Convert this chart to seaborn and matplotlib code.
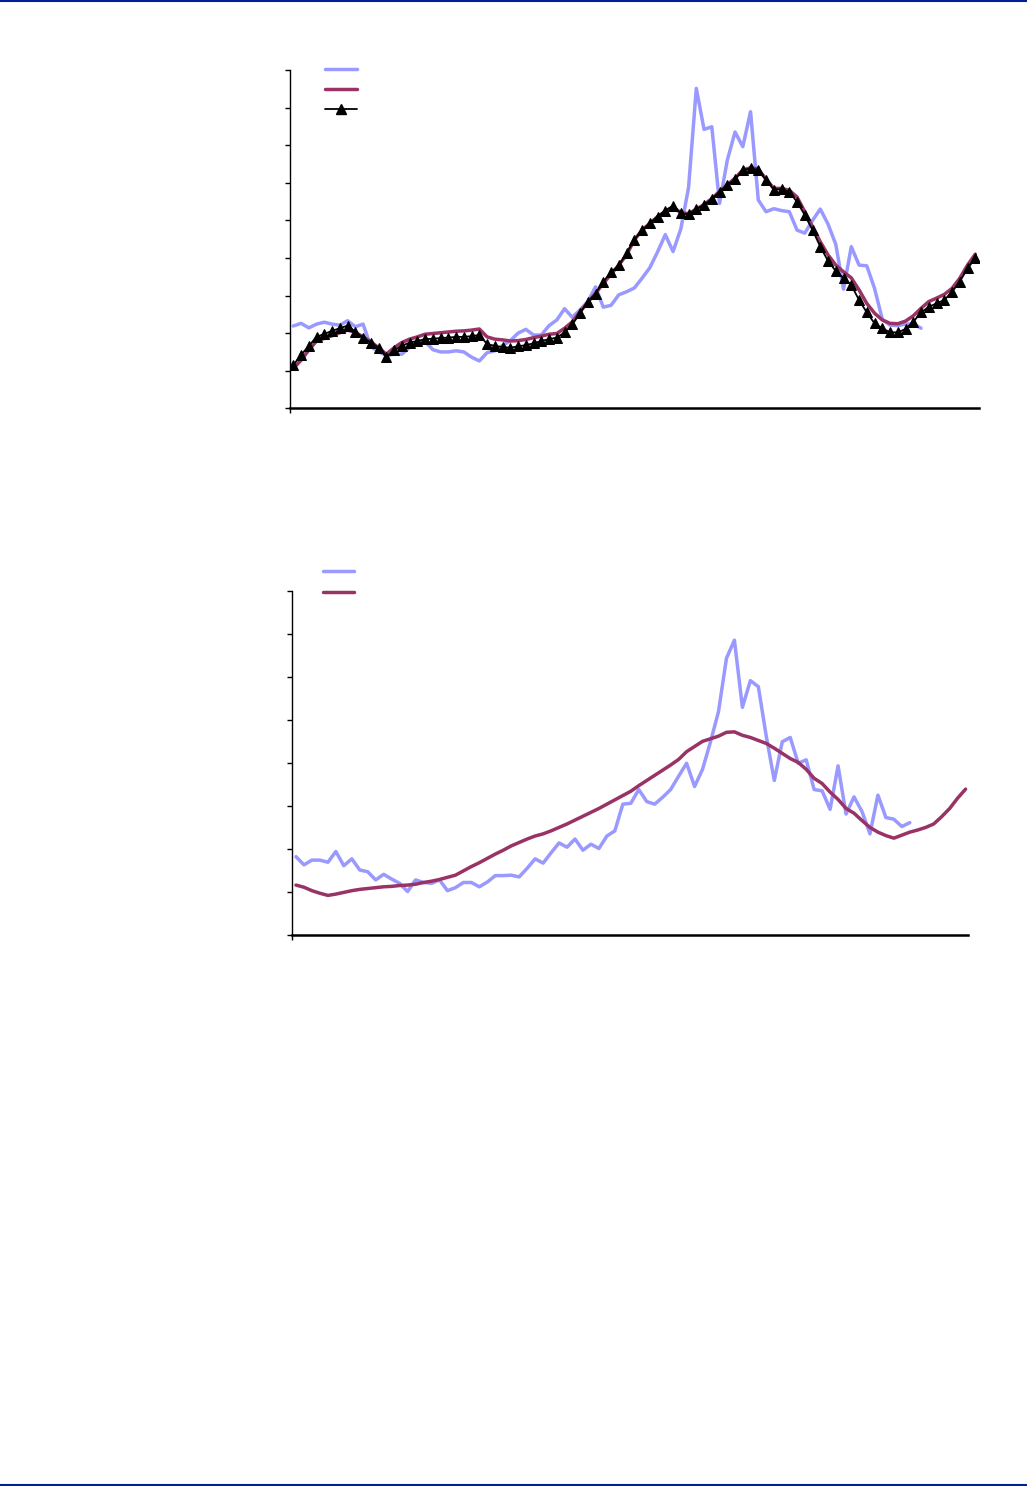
import numpy as np
import pandas as pd
import matplotlib
matplotlib.use("Agg")
import matplotlib.pyplot as plt
import seaborn as sns
from matplotlib.lines import Line2D

# ---------------- data (axis units = tick steps) -------------
top_triangle = [1.15, 1.42, 1.66, 1.90, 1.98, 2.06, 2.13, 2.20, 2.04, 1.88,
                1.75, 1.61, 1.36, 1.54, 1.66, 1.75, 1.79, 1.84, 1.85, 1.87,
                1.88, 1.90, 1.90, 1.92, 1.95, 1.71, 1.66, 1.63, 1.61, 1.65,
                1.68, 1.73, 1.79, 1.84, 1.88, 2.02, 2.23, 2.53, 2.84, 3.05,
                3.37, 3.62, 3.80, 4.13, 4.48, 4.74, 4.92, 5.10, 5.26, 5.39,
                5.19, 5.16, 5.30, 5.41, 5.57, 5.76, 5.94, 6.10, 6.34, 6.38,
                6.34, 6.07, 5.82, 5.83, 5.76, 5.49, 5.14, 4.74, 4.30, 3.92,
                3.65, 3.46, 3.28, 2.88, 2.55, 2.26, 2.13, 2.02, 2.02, 2.11,
                2.30, 2.55, 2.70, 2.79, 2.88, 3.10, 3.37, 3.72, 3.99]

top_red = [1.06, 1.28, 1.55, 1.79, 1.86, 1.93, 2.01, 2.08, 2.02, 1.90,
           1.77, 1.61, 1.44, 1.61, 1.75, 1.84, 1.90, 1.97, 1.99, 2.01,
           2.03, 2.05, 2.06, 2.08, 2.11, 1.90, 1.84, 1.82, 1.79, 1.80,
           1.83, 1.88, 1.92, 1.97, 1.99, 2.13, 2.30, 2.57, 2.82, 3.06,
           3.32, 3.57, 3.81, 4.08, 4.48, 4.74, 4.92, 5.10, 5.24, 5.36,
           5.20, 5.18, 5.30, 5.42, 5.58, 5.77, 5.95, 6.12, 6.34, 6.40,
           6.36, 6.10, 5.85, 5.85, 5.80, 5.62, 5.23, 4.83, 4.43, 4.08,
           3.81, 3.63, 3.47, 3.15, 2.79, 2.53, 2.35, 2.26, 2.25, 2.32,
           2.46, 2.66, 2.84, 2.93, 3.03, 3.19, 3.46, 3.81, 4.10]

top_blue = [2.19, 2.26, 2.14, 2.24, 2.29, 2.24, 2.21, 2.33, 2.17, 2.24,
            1.64, 1.51, 1.40, 1.44, 1.44, 1.62, 1.77, 1.78, 1.56, 1.50,
            1.50, 1.53, 1.50, 1.36, 1.26, 1.48, 1.53, 1.67, 1.80, 2.00,
            2.10, 1.95, 1.95, 2.20, 2.35, 2.65, 2.42, 2.62, 2.84, 3.23,
            2.69, 2.74, 3.02, 3.10, 3.20, 3.46, 3.74, 4.16, 4.62, 4.17,
            4.77, 5.87, 8.51, 7.42, 7.49, 5.45, 6.60, 7.35, 6.96, 7.89,
            5.54, 5.23, 5.31, 5.26, 5.23, 4.74, 4.66, 5.00, 5.30, 4.90,
            4.36, 3.17, 4.30, 3.81, 3.79, 3.19, 2.37, 2.21, 2.20, 2.24,
            2.25, 2.13]

bottom_blue = [1.82, 1.63, 1.74, 1.74, 1.69, 1.94, 1.61, 1.77, 1.51, 1.47,
               1.28, 1.41, 1.30, 1.20, 1.01, 1.28, 1.22, 1.20, 1.28, 1.03,
               1.10, 1.22, 1.22, 1.12, 1.23, 1.38, 1.38, 1.39, 1.35, 1.55,
               1.77, 1.67, 1.91, 2.14, 2.04, 2.23, 1.97, 2.11, 2.01, 2.30,
               2.42, 3.04, 3.06, 3.38, 3.10, 3.04, 3.20, 3.38, 3.69, 3.99,
               3.45, 3.85, 4.49, 5.19, 6.43, 6.85, 5.29, 5.91, 5.77, 4.61,
               3.59, 4.49, 4.59, 3.99, 4.07, 3.38, 3.35, 2.92, 3.93, 2.81,
               3.21, 2.87, 2.35, 3.25, 2.73, 2.69, 2.52, 2.61]

bottom_red = [1.16, 1.11, 1.03, 0.97, 0.92, 0.95, 0.99, 1.03, 1.06, 1.08,
              1.10, 1.12, 1.13, 1.15, 1.16, 1.18, 1.22, 1.25, 1.29, 1.34,
              1.39, 1.49, 1.59, 1.68, 1.78, 1.88, 1.97, 2.07, 2.15, 2.23,
              2.30, 2.35, 2.42, 2.50, 2.58, 2.67, 2.76, 2.85, 2.94, 3.04,
              3.14, 3.24, 3.34, 3.47, 3.59, 3.71, 3.83, 3.95, 4.08, 4.26,
              4.38, 4.50, 4.56, 4.62, 4.71, 4.72, 4.64, 4.59, 4.52, 4.45,
              4.34, 4.22, 4.10, 4.01, 3.85, 3.64, 3.52, 3.32, 3.15, 2.94,
              2.83, 2.66, 2.50, 2.39, 2.31, 2.25, 2.32, 2.39, 2.44, 2.50,
              2.58, 2.75, 2.94, 3.18, 3.39]

top_yticks = list(range(0, 10))
bottom_yticks = list(range(0, 9))

BLUE = "#9999FF"
RED = "#993366"
BLACK = "#000000"
NAVY = "#001E96"

# ---------------- figure ----------------
sns.set_theme(style="white")
plt.rcParams["font.family"] = ["DejaVu Sans"]

W, H = 1027, 1486
fig = plt.figure(figsize=(W / 100, H / 100), dpi=100)
fig.patch.set_facecolor("white")


def fx(px):
    return px / W


def fy(py):
    return 1 - py / H


ax1 = fig.add_axes([fx(290), fy(408.3), fx(979) - fx(290), fy(70) - fy(408.3)])
ax2 = fig.add_axes([fx(292), fy(935), fx(968) - fx(292), fy(590.7) - fy(935)])

df_t1 = pd.DataFrame({"x": np.arange(len(top_triangle)), "y": top_triangle})
df_r1 = pd.DataFrame({"x": np.arange(len(top_red)), "y": top_red})
df_b1 = pd.DataFrame({"x": np.arange(len(top_blue)), "y": top_blue})
df_b2 = pd.DataFrame({"x": np.arange(len(bottom_blue)), "y": bottom_blue})
df_r2 = pd.DataFrame({"x": np.arange(len(bottom_red)), "y": bottom_red})

LW = 2.5
sns.lineplot(data=df_b1, x="x", y="y", ax=ax1, color=BLUE, lw=LW, zorder=2)
sns.lineplot(data=df_r1, x="x", y="y", ax=ax1, color=RED, lw=LW, zorder=3)
sns.lineplot(data=df_t1, x="x", y="y", ax=ax1, color=BLACK, lw=1.3, marker="^",
             markersize=6.5, markeredgecolor=BLACK, markerfacecolor=BLACK, zorder=4)

sns.lineplot(data=df_b2, x="x", y="y", ax=ax2, color=BLUE, lw=LW, zorder=2)
sns.lineplot(data=df_r2, x="x", y="y", ax=ax2, color=RED, lw=LW, zorder=3)

# axes formatting
for ax, yt, xl in ((ax1, top_yticks, (-0.43, 88.48)), (ax2, bottom_yticks, (-0.5, 84.3))):
    ax.set_xlim(*xl)
    ax.set_ylim(yt[0], yt[-1])
    ax.set_yticks(yt)
    ax.set_xticks([xl[0]])
    ax.set_xlabel("")
    ax.set_ylabel("")
    ax.tick_params(axis="both", which="both", direction="out", length=3.8, width=1.0,
                   color="black", labelleft=False, labelbottom=False, left=True, bottom=True)
    for s in ("top", "right"):
        ax.spines[s].set_visible(False)
    ax.spines["left"].set_linewidth(1.0)
    ax.spines["left"].set_color("black")
    ax.spines["bottom"].set_linewidth(1.8)
    ax.spines["bottom"].set_color("black")
    ax.set_facecolor("none")
    if ax.get_legend() is not None:
        ax.get_legend().remove()

# legends (no text)
h1 = [Line2D([], [], color=BLUE, lw=LW),
      Line2D([], [], color=RED, lw=LW),
      Line2D([], [], color=BLACK, lw=1.3, marker="^", markersize=6.5)]
fig.legend(handles=h1, labels=[" ", " ", " "], loc="upper left",
           bbox_to_anchor=(fx(325), fy(62.5)), frameon=False, fontsize=10,
           handlelength=2.3, labelspacing=0.45, borderpad=0, borderaxespad=0,
           handletextpad=0.2)
h2 = [Line2D([], [], color=BLUE, lw=LW),
      Line2D([], [], color=RED, lw=LW)]
fig.legend(handles=h2, labels=[" ", " "], loc="upper left",
           bbox_to_anchor=(fx(323), fy(565)), frameon=False, fontsize=10,
           handlelength=2.2, labelspacing=0.5, borderpad=0, borderaxespad=0,
           handletextpad=0.2)

# page rules at top and bottom
fig.add_artist(Line2D([0, 1], [fy(1.0), fy(1.0)], color=NAVY, lw=1.5,
                      transform=fig.transFigure))
fig.add_artist(Line2D([0, 1], [fy(1484.5), fy(1484.5)], color=NAVY, lw=1.5,
                      transform=fig.transFigure))

fig.savefig("out.png", dpi=100, facecolor="white")
